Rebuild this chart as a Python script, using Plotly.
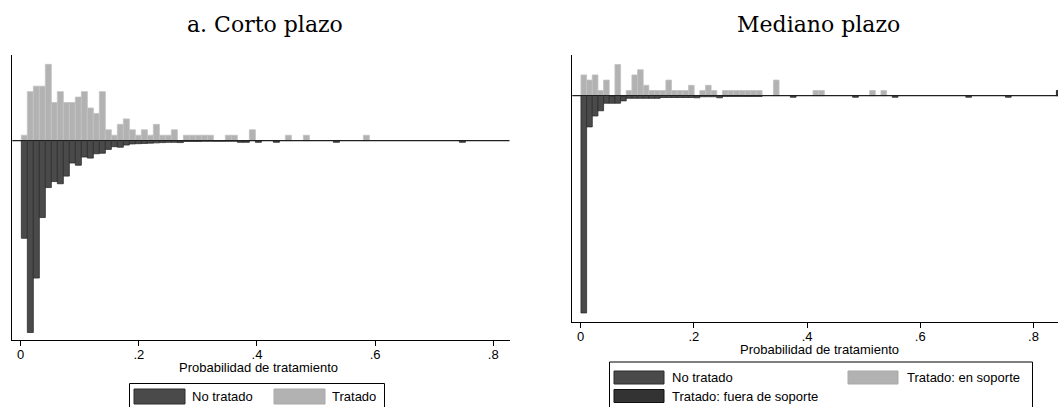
import plotly.graph_objects as go

# ---------------- data (histogram heights per bin) ----------------
# Panel a: Corto plazo  (bin width ~0.0102, first bin starts ~0.0011)
treated_a = [1, 9, 10, 10, 14, 7, 9, 7, 7, 8, 9, 6, 5, 9, 2, 1, 3, 4, 2, 1,
             2, 1, 3, 1, 1, 2, 0, 1, 1, 1, 1, 1, 0, 0, 1, 1, 0, 0, 2, 0,
             0, 0, 0, 0, 1, 0, 0, 1, 0, 0, 0, 0, 0, 0, 0, 0, 0, 1]
control_a = [17.9, 35.2, 25.2, 14.1, 8.6, 7.5, 7.9, 6.5, 4.1, 4.5,
             3.0, 3.2, 2.4, 2.3, 1.6, 1.1, 1.2, 0.8, 0.6, 0.55,
             0.5, 0.45, 0.4, 0.35, 0.3, 0.3, 0.35, 0.15, 0.15, 0.15,
             0.1, 0.1, 0.1, 0.1, 0.1, 0.1, 0.3, 0.3, 0, 0.3,
             0, 0, 0.3, 0, 0, 0, 0, 0, 0, 0,
             0, 0, 0.3, 0, 0, 0, 0, 0, 0, 0,
             0, 0, 0, 0, 0, 0, 0, 0, 0, 0,
             0, 0, 0, 0.3]
bin_start_a = 0.0011
bin_width_a = 0.01016

# Panel b: Mediano plazo (bin width 0.01, first bin starts ~0.0005)
treated_b = [4, 3, 4, 1, 3, 0, 6, 0, 1, 4, 5, 2, 1, 1, 1, 3, 1, 1, 1, 2,
             0, 1, 2, 1, 0, 1, 1, 1, 1, 1, 1, 1, 0, 0, 3, 0, 0, 0, 0, 0,
             0, 1, 1, 0, 0, 0, 0, 0, 0, 0, 0, 1, 0, 1]
control_b = [41.8, 6.0, 3.9, 2.9, 1.45, 1.45, 1.45, 1.0, 0.5, 0.5,
             0.5, 0.5, 0.5, 0.5, 0.35, 0.35, 0.35, 0.35, 0.35, 0.35,
             0.4, 0.2, 0.2, 0.2, 0.4, 0.15, 0.15, 0.15, 0.15, 0.15,
             0.15, 0.15, 0, 0, 0, 0, 0, 0.3, 0, 0,
             0, 0, 0, 0, 0, 0, 0, 0, 0.3, 0,
             0, 0, 0, 0, 0, 0.3, 0, 0, 0, 0,
             0, 0, 0, 0, 0, 0, 0, 0, 0.3, 0,
             0, 0, 0, 0, 0, 0.3]
offsupport_b = [0] * 84 + [1]
bin_start_b = 0.0005
bin_width_b = 0.0100

tick_vals = [0, 0.2, 0.4, 0.6, 0.8]
tick_text = ["0", ".2", ".4", ".6", ".8"]

title_a = "a. Corto plazo"
title_b = "Mediano plazo"
xtitle = "Probabilidad de tratamiento"

# ---------------- styling ----------------
W, H = 1058, 407
C_CTRL = "#4a4a4a"
C_CTRL_LINE = "#2c2c2c"
C_TREAT = "#b2b2b2"
C_TREAT_LINE = "#c2c2c2"
C_OFF = "#333333"
C_OFF_LINE = "#111111"
SANS = "Liberation Sans, Arial, sans-serif"
SERIF = "DejaVu Serif, serif"


def px(x):
    return x / W


def py(y):
    return (H - y) / H


def centers(start, width, n):
    return [start + width * (i + 0.5) for i in range(n)]


fig = go.Figure()


def add_bars(vals, start, width, color, line, xa, ya, negative=False):
    xs = centers(start, width, len(vals))
    ys = [-v if negative else v for v in vals]
    keep = [(x, y) for x, y in zip(xs, ys) if y != 0]
    fig.add_trace(go.Bar(
        x=[k[0] for k in keep], y=[k[1] for k in keep], width=width,
        marker=dict(color=color, line=dict(color=line, width=0.8)),
        xaxis=xa, yaxis=ya, showlegend=False, hoverinfo="skip"))


add_bars(control_a, bin_start_a, bin_width_a, C_CTRL, C_CTRL_LINE, "x", "y", negative=True)
add_bars(treated_a, bin_start_a, bin_width_a, C_TREAT, C_TREAT_LINE, "x", "y")
add_bars(control_b, bin_start_b, bin_width_b, C_CTRL, C_CTRL_LINE, "x2", "y2", negative=True)
add_bars(treated_b, bin_start_b, bin_width_b, C_TREAT, C_TREAT_LINE, "x2", "y2")
add_bars(offsupport_b, bin_start_b, bin_width_b, C_OFF, C_OFF_LINE, "x2", "y2")

xcommon = dict(tickvals=tick_vals, ticktext=tick_text, ticks="outside", ticklen=5,
               tickcolor="black", tickwidth=1, showline=True, linecolor="black",
               linewidth=1, showgrid=False, zeroline=False, ticklabelstandoff=-3,
               tickfont=dict(family=SANS, size=13, color="black"))
ycommon = dict(showline=True, linecolor="black", linewidth=1, showgrid=False,
               zeroline=False, showticklabels=False, ticks="")

fig.update_layout(
    width=W, height=H, margin=dict(l=0, r=0, t=0, b=0),
    paper_bgcolor="white", plot_bgcolor="white", barmode="overlay",
    showlegend=False,
    xaxis=dict(domain=[px(12.3), px(509.5)], range=[-0.0142, 0.8276], anchor="y", **xcommon),
    yaxis=dict(domain=[py(340), py(55)], range=[-36.57, 15.72], anchor="x", **ycommon),
    xaxis2=dict(domain=[px(572.3), 1.0], range=[-0.0148, 0.8433], anchor="y2", **xcommon),
    yaxis2=dict(domain=[py(322.3), py(55)], range=[-43.6, 7.83], anchor="x2", **ycommon),
)

# zero lines
fig.add_shape(type="line", xref="x domain", yref="y", x0=0, x1=1, y0=0, y1=0,
              line=dict(color="#202020", width=1.2), layer="above")
fig.add_shape(type="line", xref="x2 domain", yref="y2", x0=0, x1=1, y0=0, y1=0,
              line=dict(color="#202020", width=1.2), layer="above")

ann = []
# titles
ann.append(dict(text=title_a, x=px(265), y=py(24), xref="paper", yref="paper",
                showarrow=False, xanchor="center", yanchor="middle",
                font=dict(family=SERIF, size=22, color="black")))
ann.append(dict(text=title_b, x=px(818), y=py(24), xref="paper", yref="paper",
                showarrow=False, xanchor="center", yanchor="middle",
                font=dict(family=SERIF, size=22, color="black")))
# axis titles
ann.append(dict(text=xtitle, x=px(258), y=py(367), xref="paper", yref="paper",
                showarrow=False, xanchor="center", yanchor="middle",
                font=dict(family=SANS, size=13, color="black")))
ann.append(dict(text=xtitle, x=px(819), y=py(349), xref="paper", yref="paper",
                showarrow=False, xanchor="center", yanchor="middle",
                font=dict(family=SANS, size=13, color="black")))


def rect(x0, y0, x1, y1, fill, line, lw=1):
    fig.add_shape(type="rect", xref="paper", yref="paper",
                  x0=px(x0), x1=px(x1), y0=py(y1), y1=py(y0),
                  fillcolor=fill, line=dict(color=line, width=lw))


def label(text, x, y):
    ann.append(dict(text=text, x=px(x), y=py(y), xref="paper", yref="paper",
                    showarrow=False, xanchor="left", yanchor="middle",
                    font=dict(family=SANS, size=13, color="black")))


# left legend
rect(129.5, 383.5, 384.5, 409, "white", "black", 1)
rect(134, 389, 185, 404, C_CTRL, C_CTRL_LINE)
label("No tratado", 190, 396.5)
rect(274, 389, 325, 404, C_TREAT, "#a9a9a9")
label("Tratado", 330, 396.5)

# right legend
rect(609.5, 362, 1032.5, 409, "white", "black", 1)
rect(614, 371, 664, 384, C_CTRL, C_CTRL_LINE)
label("No tratado", 670, 377.7)
rect(848, 371, 898, 384, C_TREAT, "#a9a9a9")
label("Tratado: en soporte", 905, 377.7)
rect(614, 389.5, 664, 402.5, C_OFF, C_OFF_LINE)
label("Tratado: fuera de soporte", 670, 396)

fig.update_layout(annotations=ann)
fig.write_html("out.html", config={"displayModeBar": False},
               post_script="document.body.style.margin='0';document.body.style.overflow='hidden';")
